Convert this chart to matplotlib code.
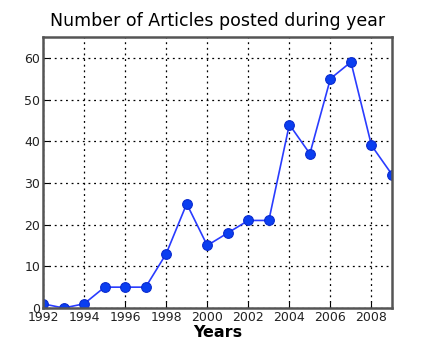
import matplotlib
matplotlib.use("Agg")
import matplotlib.pyplot as plt

years = [1992, 1993, 1994, 1995, 1996, 1997, 1998, 1999, 2000, 2001, 2002, 2003, 2004, 2005, 2006, 2007, 2008, 2009]
counts = [1, 0, 1, 5, 5, 5, 13, 25, 15, 18, 21, 21, 44, 37, 55, 59, 39, 32]
xticks = list(range(1992, 2009, 2))
yticks = [0, 10, 20, 30, 40, 50, 60]

fig = plt.figure(figsize=(4.24, 3.51), dpi=100)
ax = fig.add_axes([43/424, 1 - 308/351, (392-43)/424, (308-37)/351])
ax.plot(years, counts, color="#2a3cff", lw=1.2, marker="o", ms=7,
        markerfacecolor="#0a3ef0", markeredgecolor="#0a2ad0", markeredgewidth=0.8)
ax.set_xlim(1992, 2009)
ax.set_ylim(0, 65)
ax.set_xticks(xticks)
ax.set_yticks(yticks)
ax.grid(True, color="black", linestyle=(0, (1.5, 3)), linewidth=0.9)
for s in ax.spines.values():
    s.set_color("#555555")
    s.set_linewidth(1.8)
ax.tick_params(direction="in", length=4, color="black", labelsize=9, pad=2,
               labelcolor="#222222")
ax.set_title("Number of Articles posted during year", fontsize=12.5, pad=8,
             fontweight="medium")
ax.set_xlabel("Years", fontsize=11.5, fontweight="bold", labelpad=1)
fig.savefig("out.png", dpi=100)
